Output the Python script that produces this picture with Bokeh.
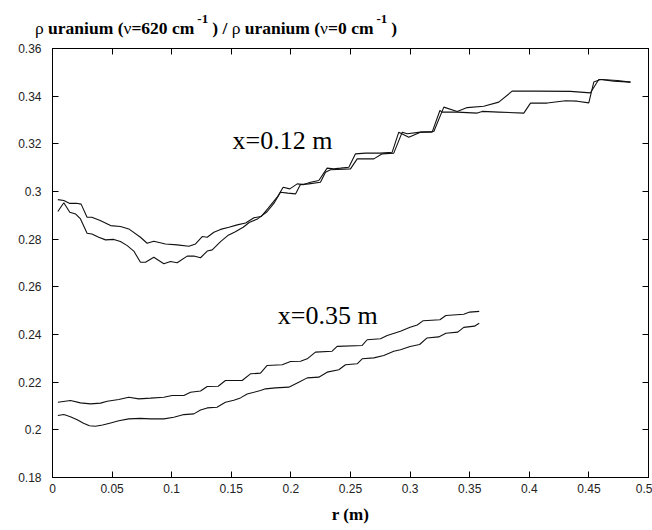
from bokeh.plotting import figure
from bokeh.layouts import column
from bokeh.models import FixedTicker, LinearAxis, Label, Range1d, Div
from bokeh.embed import file_html
from bokeh.resources import INLINE

# x = 0.12 m, two curves
r_a = [0.0045, 0.0095, 0.0145, 0.0200, 0.0240, 0.0290, 0.0330, 0.0400, 0.0487, 0.0570,
       0.0640, 0.0738, 0.0794, 0.0850, 0.0948, 0.1046, 0.1144, 0.1200, 0.1256, 0.1298,
       0.1354, 0.1410, 0.1480, 0.1550, 0.1620, 0.1690, 0.1750, 0.1810, 0.1885, 0.1935,
       0.1991, 0.2053, 0.2108, 0.2164, 0.2234, 0.2304, 0.2360, 0.2416, 0.2486, 0.2542,
       0.2626, 0.2752, 0.2850, 0.2905, 0.2989, 0.3087, 0.3199, 0.3283, 0.3395, 0.3479,
       0.3618, 0.3744, 0.3856, 0.4066, 0.4346, 0.4513, 0.4583, 0.4611, 0.4737, 0.4849]
v_a = [0.2966, 0.2962, 0.2950, 0.2951, 0.2947, 0.2892, 0.2892, 0.2878, 0.2857, 0.2853,
       0.2843, 0.2808, 0.2783, 0.2791, 0.2780, 0.2776, 0.2770, 0.2780, 0.2811, 0.2808,
       0.2829, 0.2841, 0.2850, 0.2860, 0.2868, 0.2890, 0.2895, 0.2930, 0.2976, 0.3018,
       0.3011, 0.3032, 0.3029, 0.3039, 0.3046, 0.3098, 0.3095, 0.3098, 0.3102, 0.3158,
       0.3161, 0.3161, 0.3165, 0.3249, 0.3228, 0.3249, 0.3252, 0.3354, 0.3336, 0.3352,
       0.3358, 0.3375, 0.3421, 0.3421, 0.3420, 0.3414, 0.3470, 0.3470, 0.3466, 0.3459]

r_b = [0.0045, 0.0095, 0.0145, 0.0193, 0.0235, 0.0290, 0.0330, 0.0388, 0.0445, 0.0515,
       0.0570, 0.0627, 0.0682, 0.0738, 0.0780, 0.0850, 0.0934, 0.0990, 0.1046, 0.1130,
       0.1186, 0.1242, 0.1298, 0.1340, 0.1410, 0.1470, 0.1530, 0.1600, 0.1650, 0.1720,
       0.1800, 0.1857, 0.1913, 0.1974, 0.2039, 0.2080, 0.2150, 0.2248, 0.2290, 0.2332,
       0.2500, 0.2556, 0.2696, 0.2766, 0.2863, 0.2934, 0.2976, 0.3087, 0.3185, 0.3250,
       0.3270, 0.3395, 0.3563, 0.3605, 0.3744, 0.3954, 0.4010, 0.4150, 0.4304, 0.4402,
       0.4499, 0.4541, 0.4597, 0.4709, 0.4849]
v_b = [0.2916, 0.2953, 0.2913, 0.2906, 0.2885, 0.2825, 0.2822, 0.2808, 0.2797, 0.2799,
       0.2790, 0.2773, 0.2750, 0.2703, 0.2703, 0.2724, 0.2697, 0.2706, 0.2701, 0.2729,
       0.2729, 0.2722, 0.2750, 0.2755, 0.2790, 0.2815, 0.2830, 0.2850, 0.2870, 0.2885,
       0.2915, 0.2950, 0.2997, 0.2993, 0.2990, 0.3029, 0.3032, 0.3039, 0.3081, 0.3091,
       0.3095, 0.3137, 0.3137, 0.3158, 0.3161, 0.3249, 0.3242, 0.3249, 0.3249, 0.3340,
       0.3333, 0.3333, 0.3329, 0.3336, 0.3333, 0.3329, 0.3371, 0.3371, 0.3381, 0.3379,
       0.3372, 0.3459, 0.3470, 0.3463, 0.3459]

# x = 0.35 m, two curves
r_c = [0.0045, 0.0151, 0.0235, 0.0319, 0.0403, 0.0459, 0.0556, 0.0640, 0.0724, 0.0822,
       0.0934, 0.1004, 0.1102, 0.1158, 0.1242, 0.1298, 0.1390, 0.1451, 0.1591, 0.1661,
       0.1745, 0.1801, 0.1927, 0.1997, 0.2081, 0.2137, 0.2206, 0.2346, 0.2388, 0.2598,
       0.2640, 0.2752, 0.2808, 0.2919, 0.3000, 0.3060, 0.3110, 0.3250, 0.3300, 0.3450,
       0.3500, 0.3580]
v_c = [0.2116, 0.2123, 0.2113, 0.2109, 0.2112, 0.2120, 0.2127, 0.2137, 0.2130, 0.2133,
       0.2137, 0.2144, 0.2144, 0.2158, 0.2163, 0.2182, 0.2183, 0.2207, 0.2207, 0.2235,
       0.2238, 0.2270, 0.2273, 0.2287, 0.2288, 0.2298, 0.2326, 0.2330, 0.2350, 0.2354,
       0.2378, 0.2382, 0.2396, 0.2414, 0.2430, 0.2440, 0.2458, 0.2462, 0.2480, 0.2485,
       0.2494, 0.2497]

r_d = [0.0045, 0.0095, 0.0150, 0.0207, 0.0260, 0.0310, 0.0360, 0.0420, 0.0480, 0.0556,
       0.0640, 0.0738, 0.0822, 0.0934, 0.1018, 0.1102, 0.1186, 0.1242, 0.1298, 0.1380,
       0.1451, 0.1521, 0.1577, 0.1633, 0.1745, 0.1787, 0.1871, 0.1982, 0.2066, 0.2137,
       0.2234, 0.2304, 0.2402, 0.2458, 0.2556, 0.2598, 0.2696, 0.2779, 0.2863, 0.2919,
       0.3000, 0.3080, 0.3140, 0.3240, 0.3300, 0.3400, 0.3450, 0.3540, 0.3580]
v_d = [0.2060, 0.2064, 0.2055, 0.2042, 0.2028, 0.2017, 0.2015, 0.2020, 0.2028, 0.2038,
       0.2046, 0.2048, 0.2046, 0.2046, 0.2053, 0.2064, 0.2067, 0.2083, 0.2092, 0.2095,
       0.2116, 0.2124, 0.2134, 0.2150, 0.2165, 0.2172, 0.2176, 0.2179, 0.2200, 0.2218,
       0.2221, 0.2242, 0.2252, 0.2273, 0.2277, 0.2298, 0.2302, 0.2312, 0.2330, 0.2336,
       0.2350, 0.2358, 0.2385, 0.2390, 0.2405, 0.2410, 0.2430, 0.2435, 0.2447]

x_ticks = [0, 0.05, 0.1, 0.15, 0.2, 0.25, 0.3, 0.35, 0.4, 0.45, 0.5]
x_tick_labels = ["0", "0.05", "0.1", "0.15", "0.2", "0.25", "0.3", "0.35", "0.4", "0.45", "0.5"]
y_ticks = [0.18, 0.2, 0.22, 0.24, 0.26, 0.28, 0.3, 0.32, 0.34, 0.36]
y_tick_labels = ["0.18", "0.2", "0.22", "0.24", "0.26", "0.28", "0.3", "0.32", "0.34", "0.36"]

W = 652
TH = 40

sup = ('<span style="position:relative;top:-11px;font-size:13px;'
       'margin-left:3px;margin-right:4px;">-1</span>')
title_html = (
    '<div style="font-family:\'Liberation Serif\',\'Times New Roman\',serif;font-size:17.5px;'
    'font-weight:bold;color:black;line-height:20px;padding-top:18px;padding-left:35px;'
    'white-space:nowrap;">'
    '<span style="font-weight:normal">ρ</span> uranium (<span style="font-weight:normal">ν</span>=620 cm'
    + sup + ') / <span style="font-weight:normal">ρ</span> uranium '
    '(<span style="font-weight:normal">ν</span>=0 cm' + sup + ')</div>'
)
title_div = Div(text=title_html, width=W, height=TH, margin=(0, 0, 0, 0))

# ---- main plot ----
p = figure(width=W, height=530 - TH, output_backend="svg", toolbar_location=None,
           x_range=Range1d(0, 0.5), y_range=Range1d(0.18, 0.36),
           min_border_left=52, min_border_top=8, min_border_right=4, min_border_bottom=53,
           background_fill_color="white", border_fill_color="white")
p.outline_line_color = "black"
p.outline_line_width = 1
p.xgrid.visible = False
p.ygrid.visible = False

for rr, vv in [(r_a, v_a), (r_b, v_b), (r_c, v_c), (r_d, v_d)]:
    p.line(rr, vv, line_color="#111111", line_width=1.1)

xb = p.xaxis[0]
yl = p.yaxis[0]

def style_axis(ax, ticks, labels, show):
    ax.ticker = FixedTicker(ticks=ticks)
    ax.major_tick_in = 6
    ax.major_tick_out = 0
    ax.minor_tick_line_color = None
    ax.axis_line_color = "black"
    ax.major_tick_line_color = "black"
    if show:
        ax.major_label_overrides = {t: l for t, l in zip(ticks, labels)}
        ax.major_label_text_font = "Liberation Sans"
        ax.major_label_text_font_size = "12px"
        ax.major_label_text_color = "#222222"
    else:
        ax.major_label_overrides = {t: "" for t in ticks}
        ax.major_label_text_font_size = "0px"
        ax.major_label_standoff = 0

style_axis(xb, x_ticks, x_tick_labels, True)
xb.major_label_standoff = 6
style_axis(yl, y_ticks, y_tick_labels, True)
yl.major_label_standoff = 11

xb.axis_label = "r (m)"
xb.axis_label_text_font = "Liberation Serif"
xb.axis_label_text_font_style = "bold"
xb.axis_label_text_font_size = "17px"
xb.axis_label_text_color = "black"
xb.axis_label_standoff = 9

top = LinearAxis()
style_axis(top, x_ticks, x_tick_labels, False)
p.add_layout(top, "above")
right = LinearAxis()
style_axis(right, y_ticks, y_tick_labels, False)
p.add_layout(right, "right")

# curve annotations
p.add_layout(Label(x=0.151, y=0.3212, text="x=0.12 m", text_font="Liberation Serif",
                   text_font_size="26px", text_color="black", text_baseline="middle"))
p.add_layout(Label(x=0.189, y=0.2480, text="x=0.35 m", text_font="Liberation Serif",
                   text_font_size="26px", text_color="black", text_baseline="middle"))

layout = column(title_div, p, spacing=0)
open("out.html", "w").write(file_html(layout, INLINE))
